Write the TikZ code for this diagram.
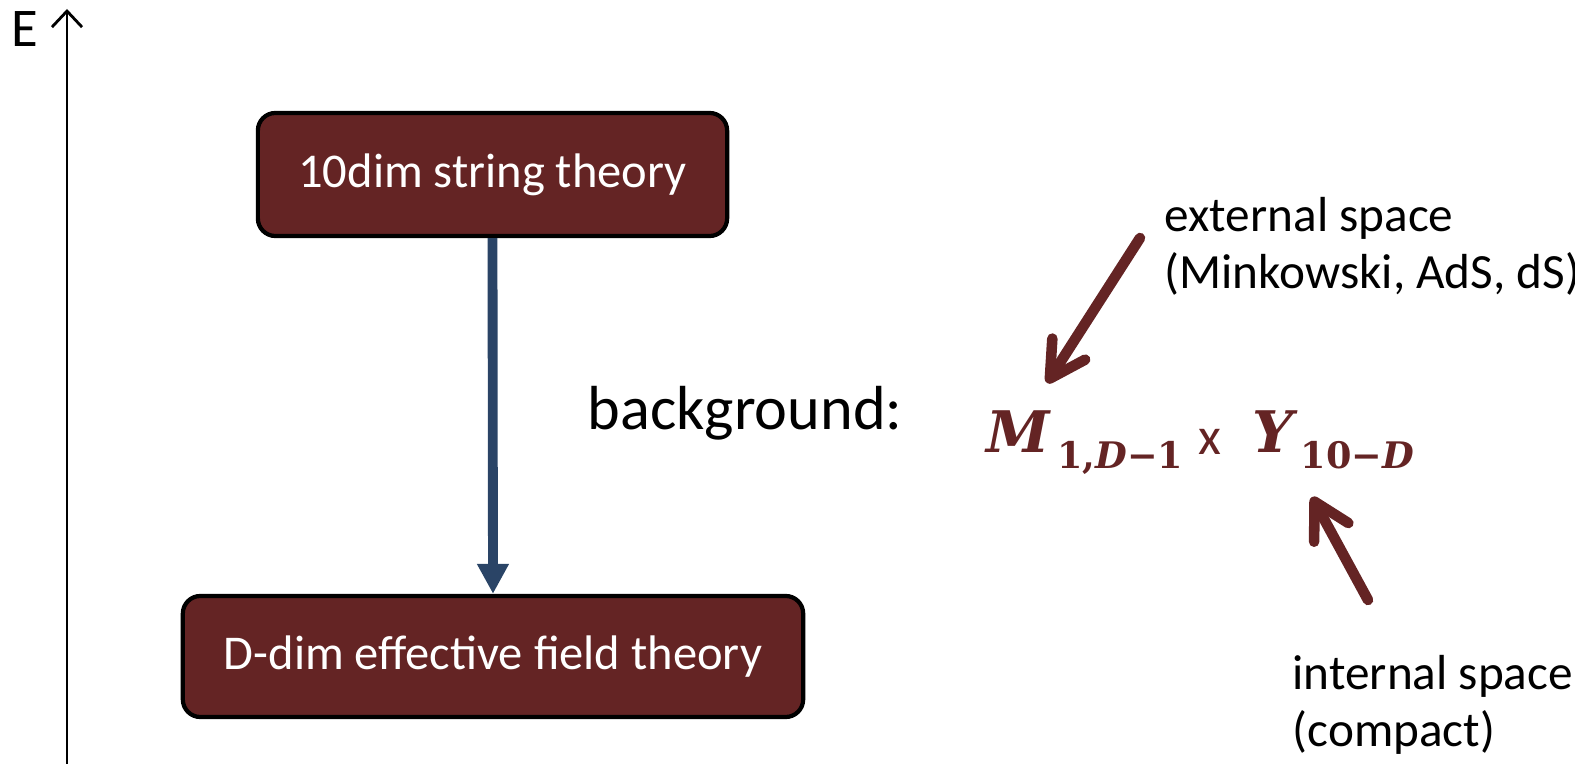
\documentclass[tikz,border=0pt]{standalone}
\usepackage{fontspec}
\setmainfont{Carlito}
\newfontfamily\spacefont{DejaVu Serif}
\usetikzlibrary{arrows.meta,positioning}
\definecolor{boxBrown}{HTML}{642424}
\definecolor{flowBlue}{HTML}{2A4466}
\newcommand{\bigsym}[1]{{\spacefont\fontsize{16.3pt}{18pt}\selectfont\bfseries\itshape #1}}
\newcommand{\lowsub}[1]{\kern2pt\raisebox{-4.3pt}{\spacefont\fontsize{10.4pt}{12pt}\selectfont\bfseries #1}}
\tikzset{
  theoryBox/.style={
    draw=black,
    line width=1.2pt,
    fill=boxBrown,
    text=white,
    rounded corners=5pt,
    font=\fontsize{13.8pt}{16pt}\selectfont,
    inner sep=0pt
  },
  sideLabel/.style={
    font=\fontsize{14pt}{16pt}\selectfont,
    align=left,
    anchor=north west,
    inner sep=0pt
  },
  spaceLabel/.style={
    text=boxBrown,
    anchor=base west,
    inner sep=0pt
  },
  flowArrow/.style={
    line width=2.8pt,
    color=flowBlue,
    -{Triangle[length=3mm,width=3mm]}
  },
  pointArrow/.style={
    line width=3pt,
    color=boxBrown,
    line cap=round,
    -{Straight Barb[length=3.5mm,width=3.9mm,round]}
  },
  axisArrow/.style={
    line width=0.8pt,
    -{Straight Barb[length=1.6mm,width=3mm]}
  }
}
\begin{document}
\begin{tikzpicture}[x=0.01cm,y=-0.01cm]
  \useasboundingbox (0,0) rectangle (1575,764);

  % energy axis
  \coordinate (axisLow) at (67,764);
  \coordinate (axisTop) at (67,9);
  \draw [axisArrow] (axisLow) -- (axisTop);
  \node (eLabel) [font=\fontsize{15.5pt}{16pt}\selectfont, anchor=base west, inner sep=0pt] at (11,47) {E};

  % the two theories
  \node (string) [theoryBox, minimum width=4.69cm, minimum height=1.23cm] at (492.5,174.5) {10dim string theory};
  \node (eft) [theoryBox, minimum width=6.2cm, minimum height=1.21cm] at (493,656.5) {D-dim effective field theory};
  \draw [flowArrow] (string.south) -- (eft.north);

  % background
  \node (bgLabel) [font=\fontsize{17.7pt}{20pt}\selectfont, anchor=base west, inner sep=0pt] at (587,430) {background:};
  \node (extSpace) [spaceLabel] at (986,453) {\bigsym{M}\lowsub{1,\textit{D}−1}};
  \node (times) [spaceLabel, font=\fontsize{15pt}{16pt}\selectfont] at (1198,455) {x};
  \node (intSpace) [spaceLabel] at (1252,453) {\bigsym{Y}\lowsub{10−\textit{D}}};

  % explanations
  \node (extText) [sideLabel] at (1164,197) {external space\\(Minkowski, AdS, dS)};
  \node (intText) [sideLabel] at (1292,655) {internal space\\(compact)};
  \coordinate (extTail) at (1140,238);
  \coordinate (extTip) at (1047,383);
  \coordinate (intTail) at (1368,600);
  \coordinate (intTip) at (1312,497);
  \draw [pointArrow] (extTail) -- (extTip);
  \draw [pointArrow] (intTail) -- (intTip);
\end{tikzpicture}
\end{document}
